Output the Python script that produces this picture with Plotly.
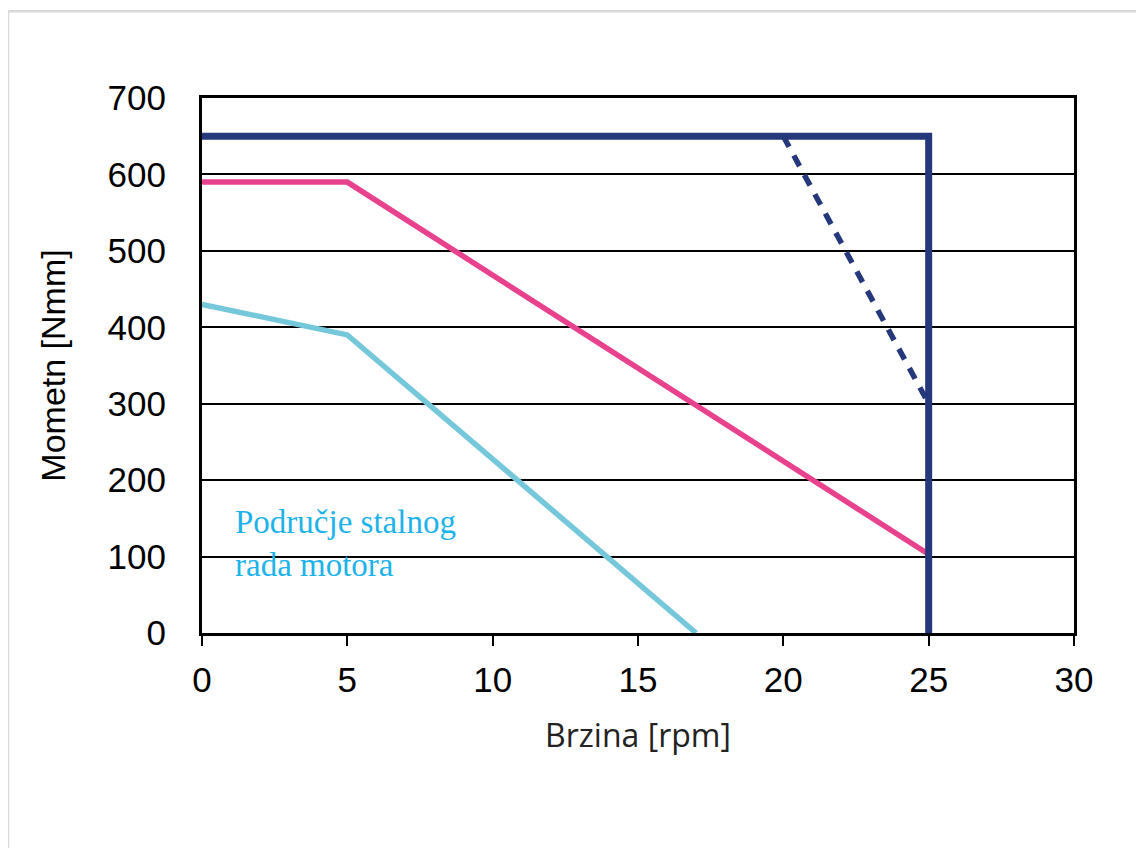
import plotly.graph_objects as go

# Data
max_x = [0, 25, 25]
max_y = [650, 650, 0]
dash_x = [20, 25]
dash_y = [650, 300]
pink_x = [0, 5, 25]
pink_y = [590, 590, 103]
cyan_x = [0, 5, 17]
cyan_y = [430, 390, 0]
x_ticks = [0, 5, 10, 15, 20, 25, 30]
y_ticks = [0, 100, 200, 300, 400, 500, 600, 700]

fig = go.Figure()
fig.add_trace(go.Scatter(x=cyan_x, y=cyan_y, mode="lines",
                         line=dict(color="#74C8DA", width=5.5), showlegend=False))
fig.add_trace(go.Scatter(x=pink_x, y=pink_y, mode="lines",
                         line=dict(color="#E8428E", width=5.5), showlegend=False))
fig.add_trace(go.Scatter(x=dash_x, y=dash_y, mode="lines",
                         line=dict(color="#26387C", width=5.5, dash="12px,10px"), showlegend=False))
fig.add_trace(go.Scatter(x=max_x, y=max_y, mode="lines",
                         line=dict(color="#26387C", width=7), showlegend=False))

fig.add_annotation(x=1.05, y=172, xref="x", yref="y", xanchor="left", yanchor="top",
                   text="Područje stalnog<br>rada motora", showarrow=False, align="left",
                   font=dict(family="Liberation Serif", size=33, color="#1DB3EA"))

# outer light gray frame (top and left edges only)
fig.add_shape(type="line", xref="paper", yref="paper",
              x0=-0.2225, x1=1.2, y0=1.162, y1=1.162,
              line=dict(color="#D9D9D9", width=2.5), layer="below")
fig.add_shape(type="line", xref="paper", yref="paper",
              x0=-0.2225, x1=-0.2225, y0=-0.5, y1=1.162,
              line=dict(color="#D9D9D9", width=2.5), layer="below")

fig.update_xaxes(range=[0, 30], tickvals=x_ticks, ticks="outside", ticklen=10,
                 tickwidth=2, tickcolor="black", showgrid=False, zeroline=False,
                 showline=True, linecolor="black", linewidth=3, mirror=True,
                 ticklabelstandoff=4,
                 tickfont=dict(family="Liberation Sans", size=35, color="black"),
                 title=dict(text="Brzina [rpm]", standoff=27,
                            font=dict(family="Open Sans", size=32, color="#222222")))
fig.update_yaxes(range=[0, 700], tickvals=y_ticks, ticks="", showgrid=True,
                 gridcolor="black", gridwidth=1.5, zeroline=False,
                 showline=True, linecolor="black", linewidth=3, mirror=True,
                 ticklabelstandoff=26,
                 tickfont=dict(family="Liberation Sans", size=35, color="black"),
                 title=dict(text="Mometn [Nmm]", standoff=32,
                            font=dict(family="Liberation Sans", size=34, color="black")))

fig.update_layout(width=1144, height=848, margin=dict(l=194, r=78, t=90, b=223),
                  plot_bgcolor="white", paper_bgcolor="white")
fig.write_html("out.html")
